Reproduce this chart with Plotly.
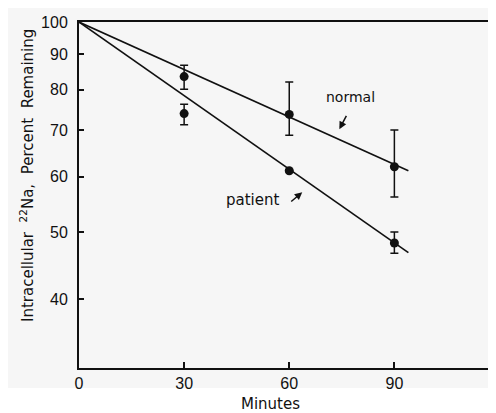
import numpy as np
import plotly.graph_objects as go

# Data
minutes = [30, 60, 90]
normal_vals = [83.5, 73.7, 62.0]
normal_err_plus = [3.2, 8.3, 8.0]
normal_err_minus = [3.4, 4.9, 5.9]
patient_vals = [73.9, 61.2, 48.2]
patient_err_plus = [2.3, 0.0, 1.8]
patient_err_minus = [2.7, 0.0, 1.6]
fit_x = [0, 94]
normal_fit = [100, 61.2]
patient_fit = [100, 46.7]
x_ticks = [0, 30, 60, 90]
y_ticks = [40, 50, 60, 70, 80, 90, 100]

BG = "#f6f6f6"
INK = "#111111"
FONT = "Liberation Sans, Arial, sans-serif"
LFONT = "DejaVu Sans, sans-serif"

fig = go.Figure()
for fy in (normal_fit, patient_fit):
    fig.add_trace(go.Scatter(x=fit_x, y=fy, mode="lines",
                             line=dict(color=INK, width=1.6), showlegend=False,
                             hoverinfo="skip"))
for vals, ep, em in ((normal_vals, normal_err_plus, normal_err_minus),
                     (patient_vals, patient_err_plus, patient_err_minus)):
    fig.add_trace(go.Scatter(
        x=minutes, y=vals, mode="markers",
        marker=dict(color=INK, size=9),
        error_y=dict(type="data", array=ep, arrayminus=em, symmetric=False,
                     color=INK, thickness=1.5, width=4),
        showlegend=False))

# page body has an 8px margin; figure sized/placed to compensate
OFF = 8
W, H = 488, 405
L, R, T, B = 71, 0, 14, 45
pw, ph = W - L - R, H - T - B

def px_x(px):
    return (px - OFF - L) / pw

def px_y(py):
    return (H - B - (py - OFF)) / ph

fig.add_shape(type="rect", xref="paper", yref="paper",
              x0=px_x(7), x1=px_x(500), y0=px_y(388), y1=px_y(5),
              fillcolor=BG, line=dict(width=0), layer="below")

C = dict(xanchor="center", yanchor="middle", showarrow=False)
annots = [
    dict(text="normal", x=77.4, y=np.log10(78.0), xref="x", yref="y",
         font=dict(size=14, color=INK, family=LFONT), **C),
    dict(text="patient", x=49.4, y=np.log10(55.5), xref="x", yref="y",
         font=dict(size=15, color=INK, family=LFONT), **C),
    dict(text=" ", x=74.3, y=np.log10(70.2), xref="x", yref="y",
         showarrow=True, ax=9, ay=-17, arrowhead=2, arrowsize=1, arrowwidth=1.5,
         arrowcolor=INK, font=dict(size=4)),
    dict(text=" ", x=63.7, y=np.log10(57.0), xref="x", yref="y",
         showarrow=True, ax=-13, ay=11, arrowhead=2, arrowsize=1, arrowwidth=1.5,
         arrowcolor=INK, font=dict(size=4)),
    dict(text="Intracellular  <sup>22</sup>Na,  Percent  Remaining", textangle=-90,
         x=px_x(27), y=px_y(176), xref="paper", yref="paper",
         font=dict(size=15, color=INK, family=LFONT), **C),
    dict(text="Minutes", x=px_x(270), y=px_y(404), xref="paper", yref="paper",
         font=dict(size=15, color=INK, family=LFONT), **C),
]

fig.update_layout(
    width=W, height=H,
    margin=dict(l=L, r=R, t=T, b=B),
    paper_bgcolor="white", plot_bgcolor="rgba(0,0,0,0)",
    annotations=annots,
    xaxis=dict(range=[0, 119], tickvals=x_ticks, ticks="inside", ticklen=6,
               tickwidth=1.5, tickcolor=INK, showline=True, linecolor=INK,
               linewidth=2, mirror=True, showgrid=False, zeroline=False,
               automargin=False,
               tickfont=dict(size=16, color=INK, family=FONT)),
    yaxis=dict(type="log", range=[np.log10(31.9), 2], tickvals=y_ticks,
               ticks="inside", ticklen=5, tickwidth=1.5, tickcolor=INK,
               showline=True, linecolor=INK, linewidth=2, showgrid=False,
               zeroline=False, ticklabelstandoff=6, automargin=False,
               tickfont=dict(size=16, color=INK, family=FONT)),
)

fig.write_html("out.html")
